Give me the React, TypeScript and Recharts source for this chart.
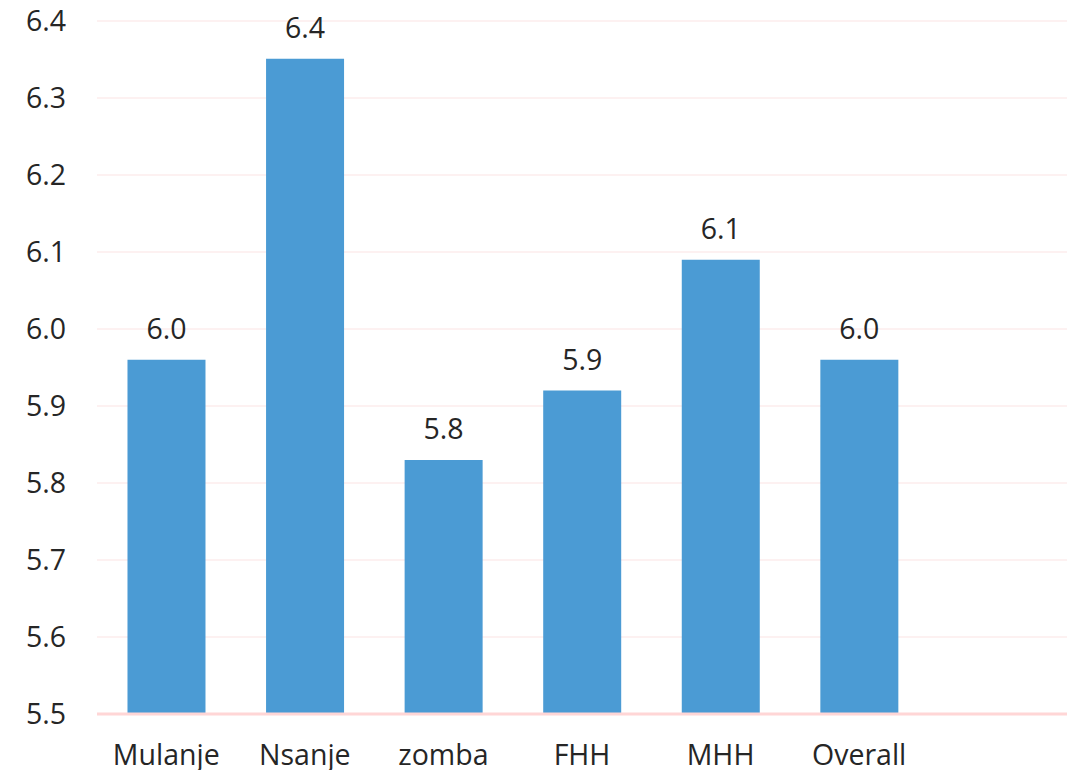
import React from "react";
import { BarChart, Bar, XAxis, YAxis, CartesianGrid, LabelList } from "recharts";

// Average household size by district and household head type
const categories = ["Mulanje", "Nsanje", "zomba", "FHH", "MHH", "Overall", ""];
const values: (number | null)[] = [5.96, 6.351, 5.83, 5.92, 6.09, 5.96, null];
const yTicks = [5.5, 5.6, 5.7, 5.8, 5.9, 6.0, 6.1, 6.2, 6.3, 6.4];

const data = categories.map((name, i) => ({ name, value: values[i] }));

const FONT = "'Open Sans', 'DejaVu Sans', sans-serif";
const TEXT = "#262626";
const SIZE = 28.5;

export default function App() {
  return (
    <div style={{ position: "absolute", left: 0, top: 0, background: "#fff" }}>
      <BarChart
        width={1074}
        height={770}
        data={data}
        margin={{ top: 21, right: 7, bottom: 0, left: 0 }}
        barCategoryGap="22%"
      >
        <CartesianGrid vertical={false} stroke="#fcecec" strokeWidth={1.5} />
        <XAxis
          dataKey="name"
          height={56}
          tickLine={false}
          tickSize={0}
          tickMargin={31}
          axisLine={{ stroke: "#ffd6d6", strokeWidth: 3 }}
          tick={{ fill: TEXT, fontSize: SIZE, fontFamily: FONT }}
          interval={0}
        />
        <YAxis
          width={97}
          domain={[5.5, 6.4]}
          ticks={yTicks}
          allowDataOverflow
          axisLine={false}
          tickLine={false}
          tickSize={0}
          tickMargin={31}
          tickFormatter={(v: number) => v.toFixed(1)}
          tick={{ fill: TEXT, fontSize: SIZE, fontFamily: FONT }}
        />
        <Bar dataKey="value" fill="#4b9bd4" isAnimationActive={false}>
          <LabelList
            dataKey="value"
            position="top"
            offset={21}
            formatter={(v: any) => (v == null ? "" : Number(v).toFixed(1))}
            style={{ fill: TEXT, fontSize: SIZE, fontFamily: FONT }}
          />
        </Bar>
      </BarChart>
    </div>
  );
}
